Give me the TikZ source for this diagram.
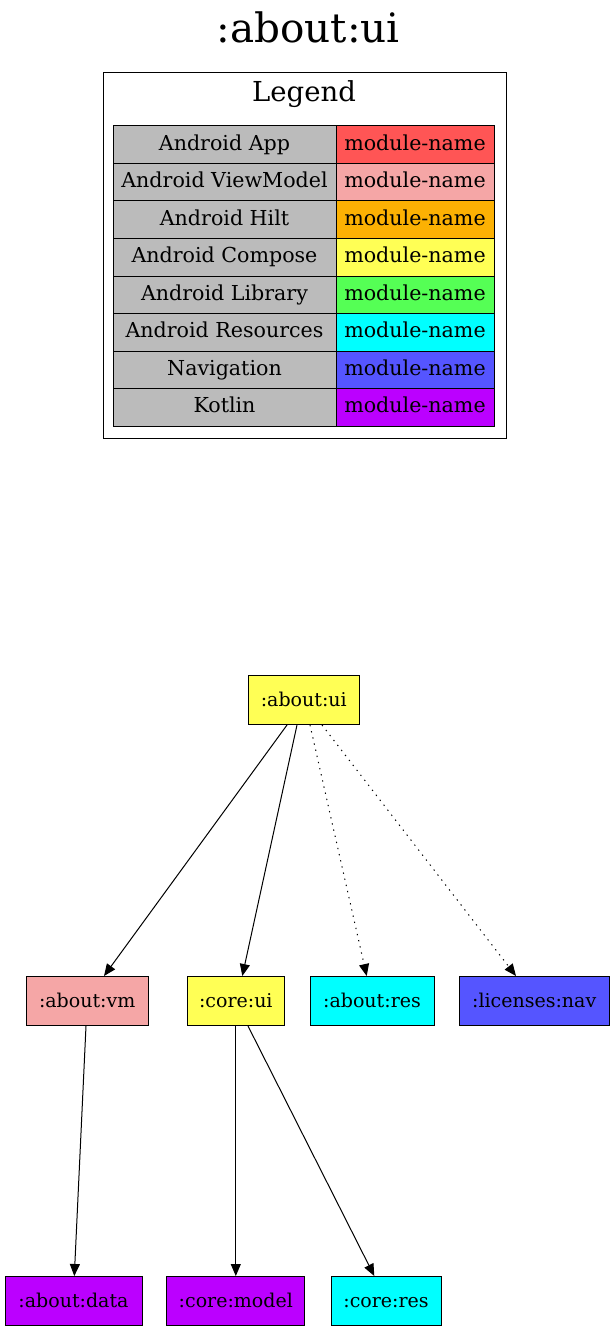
\documentclass[tikz,border=0pt]{standalone}
\usepackage{fontspec}
\setmainfont{DejaVu Serif}
\usetikzlibrary{arrows.meta}

% module type colours
\definecolor{appcol}{HTML}{FF5555}
\definecolor{vmcol}{HTML}{F5A6A6}
\definecolor{hiltcol}{HTML}{FCB103}
\definecolor{composecol}{HTML}{FFFF55}
\definecolor{libcol}{HTML}{55FF55}
\definecolor{rescol}{HTML}{00FFFF}
\definecolor{navcol}{HTML}{5555FF}
\definecolor{ktcol}{HTML}{BB00FF}
\definecolor{cellgray}{HTML}{BBBBBB}

\begin{document}
\begin{tikzpicture}[x=1pt,y=-1pt,
  mod/.style={draw=black, line width=1pt, inner sep=0pt, minimum height=49pt,
    text height=14.4pt, text depth=1pt, font=\fontsize{19}{23}\selectfont},
  cellbox/.style={draw=black, line width=1pt, inner sep=0pt, minimum height=37.5pt,
    text height=14.8pt, text depth=4.2pt, font=\fontsize{20.6}{25}\selectfont},
  namecell/.style={cellbox, fill=cellgray, minimum width=223pt},
  colcell/.style={cellbox, minimum width=158pt},
  dep/.style={line width=1pt, -{Triangle[length=12pt,width=10pt]}},
  weakdep/.style={dep, dash pattern=on 1.3pt off 5pt}
]
\useasboundingbox (0,0) rectangle (615,1332);

% title
\node[anchor=base, inner sep=0pt, font=\fontsize{40.5}{48}\selectfont] (title) at (308.3,43) {:about:ui};

% legend frame and heading
\node[draw=black, line width=1pt, minimum width=403pt, minimum height=365pt, inner sep=0pt] (legend) at (304.5,255.5) {};
\node[anchor=base, inner sep=0pt, font=\fontsize{27.5}{33}\selectfont] (legendtitle) at (304,101.7) {Legend};

% legend rows
\foreach \lbl/\col [count=\i from 0] in {Android App/appcol, Android ViewModel/vmcol,
    Android Hilt/hiltcol, Android Compose/composecol, Android Library/libcol,
    Android Resources/rescol, Navigation/navcol, Kotlin/ktcol} {
  \node[namecell] (name\i) at (224.5,144.75+37.5*\i) {\lbl};
  \node[colcell, fill=\col] (swatch\i) at (415,144.75+37.5*\i) {module-name};
}

% modules
\node[mod, fill=composecol, minimum width=111pt] (aui)    at (303.8,700)  {:about:ui};
\node[mod, fill=vmcol,      minimum width=122pt] (avm)    at (87.2,1001)  {:about:vm};
\node[mod, fill=composecol, minimum width=97pt]  (cui)    at (235.8,1001) {:core:ui};
\node[mod, fill=rescol,     minimum width=124pt] (ares)   at (372,1001)   {:about:res};
\node[mod, fill=navcol,     minimum width=150pt] (lnav)   at (534.2,1001) {:licenses:nav};
\node[mod, fill=ktcol,      minimum width=137pt] (adata)  at (73.5,1301)  {:about:data};
\node[mod, fill=ktcol,      minimum width=138pt] (cmodel) at (235.8,1301) {:core:model};
\node[mod, fill=rescol,     minimum width=110pt] (cres)   at (386,1301)   {:core:res};

% dependencies
\draw[dep]     ([xshift=-16.8pt]aui.south) -- ([xshift=16.8pt]avm.north);
\draw[dep]     ([xshift=-6.8pt]aui.south)  -- ([xshift=6.5pt]cui.north);
\draw[weakdep] ([xshift=6.2pt]aui.south)   -- ([xshift=-5.3pt]ares.north);
\draw[weakdep] ([xshift=18.2pt]aui.south)  -- ([xshift=-18.2pt]lnav.north);
\draw[dep]     ([xshift=-1.2pt]avm.south)  -- ([xshift=0.8pt]adata.north);
\draw[dep]     (cui.south) -- (cmodel.north);
\draw[dep]     ([xshift=12.2pt]cui.south)  -- ([xshift=-11.7pt]cres.north);
\end{tikzpicture}
\end{document}
